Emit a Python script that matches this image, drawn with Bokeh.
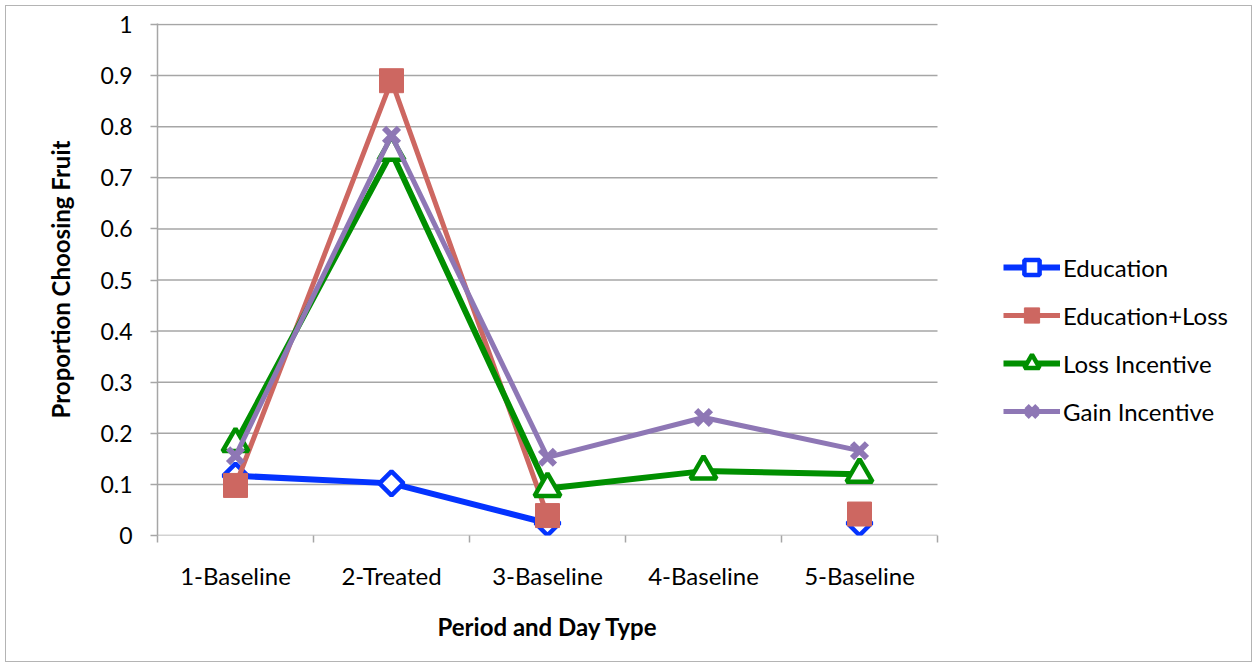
import numpy as np
from bokeh.plotting import figure
from bokeh.models import Range1d, FixedTicker, Legend, LegendItem, InlineStyleSheet, Title
from bokeh.embed import file_html
from bokeh.resources import INLINE

categories = ["1-Baseline", "2-Treated", "3-Baseline", "4-Baseline", "5-Baseline"]
education = [0.117, 0.102, 0.024, np.nan, 0.024]
education_loss = [0.098, 0.890, 0.039, np.nan, 0.042]
loss_incentive = [0.180, 0.750, 0.092, 0.126, 0.120]
gain_incentive = [0.156, 0.783, 0.153, 0.231, 0.166]
y_ticks = [0, 0.1, 0.2, 0.3, 0.4, 0.5, 0.6, 0.7, 0.8, 0.9, 1]

FONT = "Lato"
n = len(categories)
x = list(range(1, n + 1))

# frame: left 157 .. right 1251 (plot area ends at 937, legend lives in the rest)
W, H = 1257, 666
left, right_border, top, bottom = 157, 6, 23, 131
px_per_cat = (937 - 157) / n
frame_w = W - left - right_border
x_end = 0.5 + frame_w / px_per_cat
frame_h = H - top - bottom
y_end = frame_h / (535 - 24)

p = figure(width=W, height=H, output_backend="svg", toolbar_location=None,
           x_range=Range1d(0.5, x_end), y_range=Range1d(0, y_end),
           min_border_left=left, min_border_right=right_border,
           min_border_top=top, min_border_bottom=bottom)
p.outline_line_color = None
p.background_fill_color = "white"
p.border_fill_color = "white"
p.stylesheets = [InlineStyleSheet(css=(
    ":host { position: relative; }\n"
    ":host::after { content: ''; position: absolute; left: 5px; top: 5px; right: 5px; bottom: 4px;"
    " border: 1.5px solid #B4B4B4; z-index: 1000; pointer-events: none; box-sizing: border-box; }"
))]

grid_col = "#A6A6A6"
p.xgrid.grid_line_color = None
p.ygrid.grid_line_color = None

# horizontal gridlines / axis line spanning only the category area
p.segment(x0=[0.5] * len(y_ticks), x1=[n + 0.5] * len(y_ticks), y0=y_ticks, y1=y_ticks,
          line_color=grid_col, line_width=1.5, level="underlay")

# x axis
xa = p.xaxis[0]
xa.ticker = FixedTicker(ticks=x, minor_ticks=[i + 0.5 for i in range(0, n + 1)])
xa.major_label_overrides = {i: c for i, c in zip(x, categories)}
xa.major_tick_line_color = None
xa.major_tick_out = 7
xa.major_tick_in = 0
xa.minor_tick_line_color = grid_col
xa.minor_tick_line_width = 1.5
xa.minor_tick_out = 7
xa.minor_tick_in = 0
xa.axis_line_color = None
xa.major_label_text_font = FONT
xa.major_label_text_font_size = "24px"
xa.major_label_text_color = "black"
xa.major_label_standoff = 18

# x-axis title centred under the category area (not the whole frame)
xtitle = Title(text="Period and Day Type", align="left", offset=280,
               text_font=FONT, text_font_style="bold", text_font_size="24px",
               text_color="black", standoff=35)
p.add_layout(xtitle, "below")

ya = p.yaxis[0]
ya.ticker = FixedTicker(ticks=y_ticks, minor_ticks=[])
ya.major_label_overrides = {t: ("0" if t == 0 else ("1" if t == 1 else f"{t:.1f}")) for t in y_ticks}
ya.major_tick_line_color = grid_col
ya.major_tick_line_width = 1.5
ya.major_tick_out = 7
ya.major_tick_in = 0
ya.axis_line_color = grid_col
ya.axis_line_width = 1.5
ya.major_label_text_font = FONT
ya.major_label_text_font_size = "23px"
ya.major_label_text_color = "black"
ya.major_label_standoff = 18
ya.axis_label = "Proportion Choosing Fruit"
ya.axis_label_text_font = FONT
ya.axis_label_text_font_style = "bold"
ya.axis_label_text_font_size = "24px"
ya.axis_label_text_color = "black"
ya.axis_label_standoff = 22

series = [
    ("Education", education, "#0433FF", 6, dict(marker="square", angle=np.pi / 4, size=17,
                                                 fill_color="white", line_width=4.5)),
    ("Education+Loss", education_loss, "#CD6761", 5, dict(marker="square", size=24,
                                                        line_width=1)),
    ("Loss Incentive", loss_incentive, "#008F00", 6, dict(marker="triangle", size=26,
                                                        fill_color="white", line_width=4.5)),
    ("Gain Incentive", gain_incentive, "#8E77B5", 5, dict(marker="x", size=21, line_width=6)),
]

items = []
for name, vals, col, lw, mk in series:
    r1 = p.line(x, vals, line_color=col, line_width=lw)
    kw = dict(mk)
    kw.setdefault("fill_color", col)
    r2 = p.scatter(x, vals, line_color=col, **kw)
    items.append(LegendItem(label=name, renderers=[r1, r2]))

legend = Legend(items=items, location=(1003 - left, 535 - 430))
legend.border_line_color = None
legend.background_fill_alpha = 0
legend.padding = 0
legend.margin = 0
legend.glyph_width = 57
legend.glyph_height = 38
legend.label_height = 38
legend.spacing = 10
legend.label_standoff = 3
legend.label_text_font = FONT
legend.label_text_font_size = "24px"
legend.label_text_color = "black"
p.add_layout(legend, "center")

open("out.html", "w").write(file_html(p, INLINE))
